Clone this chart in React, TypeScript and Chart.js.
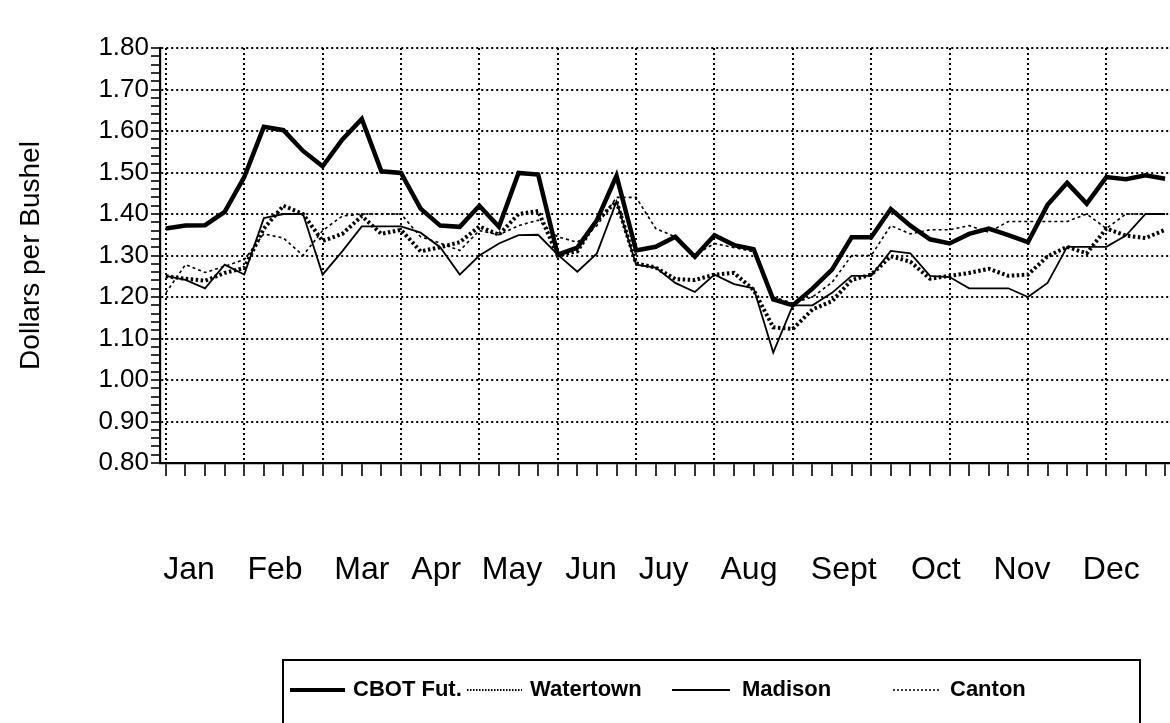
import React, { useEffect, useRef } from 'react';
import { Chart, registerables } from 'chart.js';

Chart.register(...registerables);

const FONT = "'Liberation Sans', Arial, Helvetica, sans-serif";

// Week index (0 = first week of January)
const weeks = [
  0, 1, 2, 3, 4, 5, 6, 7, 8, 9, 10, 11, 12, 13, 14, 15, 16, 17, 18, 19, 20, 21, 22, 23, 24, 25,
  26, 27, 28, 29, 30, 31, 32, 33, 34, 35, 36, 37, 38, 39, 40, 41, 42, 43, 44, 45, 46, 47, 48, 49, 50, 51,
];

const monthLabels = ['Jan', 'Feb', 'Mar', 'Apr', 'May', 'Jun', 'Juy', 'Aug', 'Sept', 'Oct', 'Nov', 'Dec'];
// where each month label sits, in week units
const monthLabelWeeks = [1.18, 5.57, 10.0, 13.8, 17.67, 21.7, 25.4, 29.76, 34.6, 39.3, 43.7, 48.25];

const cbotFut = [
  1.365, 1.372, 1.373, 1.405, 1.489, 1.61, 1.602, 1.552, 1.515, 1.579, 1.629, 1.503, 1.499,
  1.413, 1.372, 1.369, 1.42, 1.369, 1.499, 1.495, 1.302, 1.319, 1.385, 1.492, 1.312, 1.321,
  1.345, 1.297, 1.349, 1.325, 1.315, 1.194, 1.18, 1.22, 1.266, 1.344, 1.344, 1.412, 1.372,
  1.339, 1.329, 1.352, 1.365, 1.349, 1.332, 1.422, 1.475, 1.425, 1.489, 1.484, 1.493, 1.485,
];

const watertown = [
  1.25, 1.244, 1.239, 1.258, 1.27, 1.365, 1.42, 1.4, 1.335, 1.352, 1.395, 1.352, 1.362,
  1.31, 1.32, 1.332, 1.37, 1.35, 1.4, 1.407, 1.3, 1.31, 1.385, 1.43, 1.281, 1.271,
  1.243, 1.241, 1.254, 1.258, 1.217, 1.127, 1.123, 1.17, 1.19, 1.241, 1.254, 1.298, 1.285,
  1.244, 1.251, 1.258, 1.268, 1.251, 1.254, 1.298, 1.321, 1.305, 1.365, 1.348, 1.342, 1.362,
];

const madison = [
  1.251, 1.241, 1.221, 1.278, 1.254, 1.39, 1.4, 1.4, 1.254, 1.31, 1.37, 1.37, 1.37,
  1.355, 1.32, 1.254, 1.3, 1.329, 1.349, 1.35, 1.302, 1.261, 1.305, 1.43, 1.278, 1.271,
  1.234, 1.212, 1.254, 1.231, 1.221, 1.066, 1.18, 1.18, 1.21, 1.251, 1.251, 1.311, 1.305,
  1.251, 1.248, 1.221, 1.221, 1.221, 1.2, 1.234, 1.321, 1.321, 1.321, 1.348, 1.4, 1.4,
];

const canton = [
  1.21, 1.278, 1.259, 1.274, 1.29, 1.352, 1.342, 1.3, 1.36, 1.395, 1.4, 1.4, 1.4,
  1.345, 1.33, 1.312, 1.36, 1.35, 1.372, 1.385, 1.345, 1.332, 1.372, 1.44, 1.44, 1.365,
  1.345, 1.302, 1.329, 1.319, 1.309, 1.2, 1.185, 1.2, 1.235, 1.3, 1.3, 1.372, 1.352,
  1.362, 1.362, 1.372, 1.356, 1.382, 1.382, 1.382, 1.382, 1.4, 1.365, 1.4, 1.4, 1.4,
];

// y-axis ticks every 0.02 from 0.80 to 1.80; labels every 0.10
const Y_MIN = 0.8;
const Y_MAX = 1.8;
const yTickValues = Array.from({ length: 51 }, (_, i) => Math.round((Y_MIN + i * 0.02) * 100) / 100);

const toPoints = (vals: number[]) => vals.map((v, i) => ({ x: weeks[i], y: v }));

const legendPlugin = {
  id: 'boxedLegend',
  afterDraw(chart: any) {
    const ctx = chart.ctx as CanvasRenderingContext2D;
    const items = [
      { ds: 0, x0: 290, x1: 345, tx: 353, width: 4, dash: [] as number[] },
      { ds: 1, x0: 467, x1: 522, tx: 530, width: 2, dash: [1.5, 1.5] },
      { ds: 2, x0: 672, x1: 730, tx: 742, width: 2, dash: [] as number[] },
      { ds: 3, x0: 893, x1: 940, tx: 950, width: 1.5, dash: [2, 2] },
    ];
    const cy = 690;
    ctx.save();
    ctx.strokeStyle = '#000';
    ctx.lineWidth = 2;
    ctx.setLineDash([]);
    ctx.strokeRect(283, 660, 1140 - 283, 100);
    ctx.font = `bold 22px ${FONT}`;
    ctx.fillStyle = '#000';
    ctx.textBaseline = 'middle';
    ctx.textAlign = 'left';
    items.forEach((it) => {
      const ds = chart.data.datasets[it.ds];
      ctx.beginPath();
      ctx.lineWidth = it.width;
      ctx.setLineDash(it.dash);
      ctx.moveTo(it.x0, cy);
      ctx.lineTo(it.x1, cy);
      ctx.stroke();
      ctx.setLineDash([]);
      ctx.fillText(ds.label, it.tx, cy);
    });
    ctx.restore();
  },
};

export default function App() {
  const ref = useRef<HTMLCanvasElement>(null);

  useEffect(() => {
    if (!ref.current) return;
    const chart = new Chart(ref.current, {
      type: 'line',
      data: {
        datasets: [
          {
            label: 'CBOT Fut.',
            data: toPoints(cbotFut),
            borderColor: '#000',
            borderWidth: 4.5,
            pointRadius: 0,
            tension: 0,
            fill: false,
          },
          {
            label: 'Watertown',
            data: toPoints(watertown),
            borderColor: '#000',
            borderWidth: 4,
            borderDash: [2.5, 2.5],
            pointRadius: 0,
            tension: 0,
            fill: false,
          },
          {
            label: 'Madison',
            data: toPoints(madison),
            borderColor: '#000',
            borderWidth: 1.8,
            pointRadius: 0,
            tension: 0,
            fill: false,
          },
          {
            label: 'Canton',
            data: toPoints(canton),
            borderColor: '#000',
            borderWidth: 1.6,
            borderDash: [3, 3],
            pointRadius: 0,
            tension: 0,
            fill: false,
          },
        ],
      },
      options: {
        responsive: false,
        maintainAspectRatio: false,
        animation: false,
        devicePixelRatio: 1,
        layout: { padding: { top: 48, right: 0, bottom: 0, left: 0 } },
        plugins: {
          legend: { display: false },
          tooltip: { enabled: false },
        },
        scales: {
          x: {
            type: 'linear',
            position: 'bottom',
            min: -0.3,
            max: 51.25,
            afterBuildTicks: (s: any) => {
              s.ticks = weeks.map((v) => ({ value: v }));
            },
            afterFit: (s: any) => {
              s.height = 14;
              s.paddingLeft = 0;
              s.paddingRight = 0;
            },
            ticks: { display: false, autoSkip: false },
            grid: {
              color: (c: any) => (c.tick && c.tick.value % 4 === 0 ? '#000' : 'rgba(0,0,0,0)'),
              lineWidth: 2,
              drawTicks: true,
              tickLength: 13,
              tickColor: '#000',
              tickWidth: 1.6,
            },
            border: { display: true, color: '#000', width: 2.2, dash: [2, 3] },
          },
          x2: {
            type: 'linear',
            position: 'bottom',
            min: -0.3,
            max: 51.25,
            afterBuildTicks: (s: any) => {
              s.ticks = monthLabelWeeks.map((v) => ({ value: v }));
            },
            afterFit: (s: any) => {
              s.height = 246;
              s.paddingLeft = 0;
              s.paddingRight = 0;
            },
            ticks: {
              autoSkip: false,
              maxRotation: 0,
              minRotation: 0,
              padding: 74,
              color: '#000',
              font: { family: FONT, size: 32 },
              callback: (_v: any, i: number) => monthLabels[i],
            },
            grid: { display: false, drawTicks: false },
            border: { display: false },
          },
          y: {
            type: 'linear',
            min: Y_MIN,
            max: Y_MAX,
            afterBuildTicks: (s: any) => {
              s.ticks = yTickValues.map((v) => ({ value: v }));
            },
            afterFit: (s: any) => {
              s.width = 160;
            },
            ticks: {
              autoSkip: false,
              padding: 2,
              color: '#000',
              font: { family: FONT, size: 26 },
              callback: (v: any, i: number) => (i % 5 === 0 ? Number(v).toFixed(2) : ''),
            },
            grid: {
              color: (c: any) => (c.index % 5 === 0 ? '#000' : 'rgba(0,0,0,0)'),
              lineWidth: 2,
              drawTicks: true,
              tickLength: 9,
              tickColor: '#000',
              tickWidth: 1.6,
            },
            border: { display: true, color: '#000', width: 2.2, dash: [2, 3] },
            title: {
              display: true,
              text: 'Dollars per Bushel',
              color: '#000',
              font: { family: FONT, size: 28 },
              padding: { top: 14, bottom: 0 },
            },
          },
        },
      },
      plugins: [legendPlugin],
    } as any);
    return () => chart.destroy();
  }, []);

  return (
    <div style={{ position: 'absolute', left: 0, top: 0, width: 1170, height: 723, background: '#fff' }}>
      <canvas ref={ref} width={1170} height={723} style={{ display: 'block' }} />
    </div>
  );
}
